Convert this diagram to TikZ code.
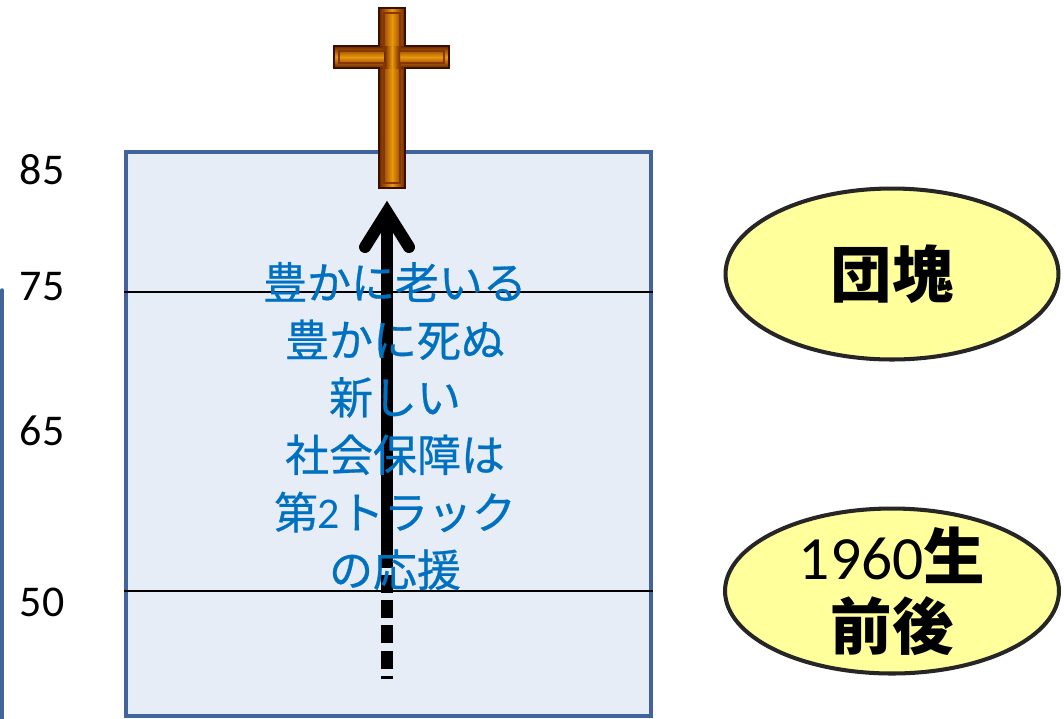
\documentclass[tikz,border=0pt]{standalone}
\usepackage{fontspec}
\setmainfont{Carlito}
\newfontfamily\jp{Noto Sans CJK JP}
\newfontfamily\jpmsg[FakeBold=0.6]{Noto Sans CJK JP}
\usetikzlibrary{positioning,shapes.geometric}

\definecolor{frameblue}{HTML}{41659A}
\definecolor{boxfill}{HTML}{E6EDF7}
\definecolor{textblue}{HTML}{0070C0}
\definecolor{bubblefill}{HTML}{FFFF9C}
\definecolor{bubbleline}{HTML}{262626}
\definecolor{woodlight}{HTML}{EA980C}
\definecolor{wooddark}{HTML}{6B2600}
\definecolor{woodedge}{HTML}{3A0E00}
\definecolor{woodinner}{HTML}{8A3500}

\tikzset{
  age/.style={font=\fontsize{25}{30}\selectfont},
  rule/.style={black,line width=1.4pt},
  bubble/.style={ellipse,draw=bubbleline,line width=2.3pt,fill=bubblefill,inner sep=0pt},
  bubbletext/.style={font=\jp\bfseries\fontsize{35}{40}\selectfont,align=center},
  msg/.style={font=\jpmsg\fontsize{25}{32.7}\selectfont,text=textblue,align=center}
}

\begin{document}
\begin{tikzpicture}[x=0.02cm,y=-0.02cm]
    \useasboundingbox (0,0) rectangle (1064,718);

    \node[draw=frameblue,line width=2.3pt,fill=boxfill,inner sep=0pt,
          minimum width=10.5cm,minimum height=11.28cm,anchor=north west] (box) at (124,150) {};
    \draw[rule] (box.west |- 0,292) -- (box.east |- 0,292);
    \draw[rule] (box.west |- 0,591) -- (box.east |- 0,591);

    \draw[frameblue,line width=2pt,line cap=round] (2,290) -- (2,722);

    \node[age] (a85) at (42,170) {85};
    \node[age] (a75) [below of=a85,node distance=2.34cm] {75};
    \node[age] (a65) [below of=a75,node distance=2.88cm] {65};
    \node[age] (a50) [below of=a65,node distance=3.42cm] {50};

    % the arrow up the life line, dotted below 50
    \coordinate (head) at (387,212);
    \coordinate (mid) at (387,550);
    \coordinate (foot) at (387,679);
    \draw[line width=6.8pt] (mid) -- (head);
    \draw[line width=6.8pt,dash pattern=on 10.3pt off 4pt] (mid) -- (foot);
    \draw[line width=6.8pt,line cap=round,line join=miter] (365,247) -- (head) -- (409,247);

    \node[msg] (msg) at (395,426) {豊かに老いる\\豊かに死ぬ\\新しい\\社会保障は\\第{\rmfamily 2}トラック\\の応援};

    % cross
    \shade[left color=wooddark,right color=wooddark,middle color=woodlight] (379,8) rectangle (405,188);
    \shade[top color=wooddark,bottom color=wooddark,middle color=woodlight] (334,46) rectangle (449,68);
    \shade[left color=wooddark,right color=wooddark,middle color=woodlight] (384,46) rectangle (400,68);
    \draw[woodinner,line width=0.9pt] (384,13) -- (400,13) -- (400,51) -- (444,51) -- (444,63) -- (400,63)
        -- (400,183) -- (384,183) -- (384,63) -- (339,63) -- (339,51) -- (384,51) -- cycle;
    \draw[woodedge,line width=1.4pt] (379,8) -- (405,8) -- (405,46) -- (449,46) -- (449,68) -- (405,68)
        -- (405,188) -- (379,188) -- (379,68) -- (334,68) -- (334,46) -- (379,46) -- cycle;

    \node[bubble,minimum width=6.66cm,minimum height=3.42cm] (dankai) at (892,274) {};
    \node[bubbletext] (dankaitxt) at (dankai) {団塊};
    \node[bubble,minimum width=6.68cm,minimum height=3.3cm] (sixty) at (892,591) {};
    \node[bubbletext] (sixtytxt) at (sixty) {{\rmfamily\mdseries 1960}生\\前後};
\end{tikzpicture}
\end{document}
